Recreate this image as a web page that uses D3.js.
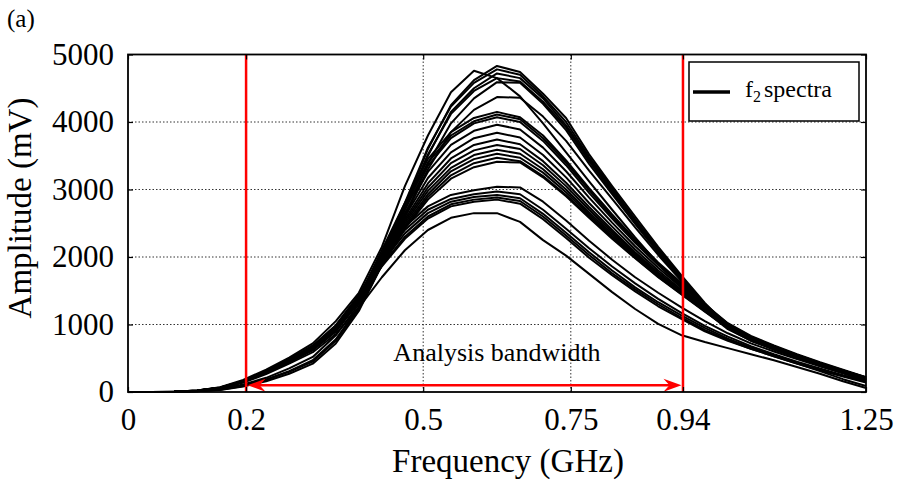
<!DOCTYPE html>
<html>
<head>
<meta charset="utf-8">
<script src="https://cdn.jsdelivr.net/npm/d3@7"></script>
<style>
  body { margin: 0; background: #fff; }
  svg { display: block; }
  text { font-family: "Liberation Serif", "Times New Roman", serif; fill: #000; }
</style>
</head>
<body>
<svg id="chart"></svg>
<script>
// sample frequencies of every spectrum (GHz)
var freqs = [0, 0.039, 0.078, 0.117, 0.156, 0.195, 0.234, 0.273, 0.313, 0.352, 0.391, 0.43, 0.469, 0.508, 0.547, 0.586, 0.625, 0.664, 0.703, 0.742, 0.781, 0.82, 0.859, 0.898, 0.938, 0.977, 1.016, 1.055, 1.094, 1.133, 1.172, 1.211, 1.25];

// high amplitude spectra (mV)
var spec01 = [0,0,5,22,70,180,330,510,720,1050,1470,2150,3050,3800,4440,4760,4650,4380,3980,3550,3120,2700,2290,1900,1540,1200,930,760,640,530,420,320,220];
var spec02 = [0,0,4,18,60,160,300,470,660,960,1400,2000,2750,3600,4250,4620,4830,4740,4420,4060,3520,3050,2600,2150,1720,1320,980,800,670,550,430,320,210];
var spec03 = [0,0,5,20,62,165,305,480,670,980,1420,2050,2800,3620,4230,4580,4780,4700,4380,4000,3480,3020,2560,2120,1700,1300,970,790,660,540,420,310,200];
var spec04 = [0,0,4,18,58,150,290,460,640,940,1380,1950,2700,3500,4150,4500,4720,4650,4350,3950,3450,2990,2540,2100,1680,1290,960,780,650,530,410,300,190];
var spec05 = [0,0,5,19,60,155,295,465,650,950,1390,1980,2720,3520,4120,4460,4650,4600,4300,3920,3420,2960,2510,2080,1660,1270,950,770,640,520,400,290,180];
var spec06 = [0,0,3,14,42,110,210,350,520,840,1300,1900,2600,3380,3980,4350,4590,4580,4270,3880,3380,2930,2490,2060,1650,1260,940,760,630,510,390,280,170];
var spec07 = [0,0,4,18,56,148,285,455,635,930,1360,1920,2600,3300,3850,4180,4370,4360,4080,3720,3280,2860,2440,2030,1640,1260,950,770,640,520,400,290,180];

// middle amplitude spectra (mV)
var spec08 = [0,0,5,21,64,160,300,470,650,940,1400,2100,2800,3450,3850,4060,4150,4070,3800,3430,3020,2630,2260,1920,1610,1300,1020,830,690,560,440,330,220];
var spec09 = [0,0,4,19,60,150,285,455,635,920,1370,2050,2750,3400,3800,4010,4110,4040,3760,3400,2990,2600,2240,1900,1590,1290,1010,820,680,550,430,320,210];
var spec10 = [0,0,5,20,62,155,290,460,640,925,1380,2020,2700,3350,3760,3980,4070,4000,3720,3360,2950,2570,2210,1880,1570,1270,1000,820,680,550,430,320,210];
var spec11 = [0,0,4,18,58,148,282,450,630,910,1360,1980,2650,3260,3660,3870,3960,3890,3620,3270,2880,2510,2160,1840,1540,1250,990,810,670,550,430,320,210];
var spec12 = [0,0,5,20,60,152,285,452,632,912,1355,1960,2600,3170,3550,3760,3840,3770,3510,3180,2800,2450,2110,1800,1510,1230,980,800,660,540,420,310,200];
var spec13 = [0,0,4,19,58,148,280,445,625,900,1340,1940,2560,3090,3460,3660,3740,3670,3420,3100,2740,2400,2070,1770,1490,1220,970,790,650,530,410,300,190];
var spec14 = [0,0,5,20,60,150,282,448,628,905,1345,1930,2530,3030,3390,3580,3660,3600,3360,3050,2700,2370,2050,1750,1480,1210,970,790,650,530,410,300,190];
var spec15 = [0,0,3,12,38,95,185,310,470,780,1260,1910,2500,2980,3320,3510,3590,3530,3300,3000,2660,2340,2030,1740,1470,1210,970,790,650,530,410,300,190];
var spec16 = [0,0,5,19,59,150,280,446,624,900,1335,1900,2470,2930,3270,3450,3530,3470,3250,2960,2630,2310,2010,1720,1460,1200,960,780,640,520,400,290,180];
var spec17 = [0,0,2,10,30,80,160,270,420,720,1200,1880,2440,2890,3210,3390,3470,3420,3200,2920,2600,2290,1990,1710,1450,1200,960,780,640,520,400,290,180];
var spec18 = [0,0,5,20,60,150,282,448,626,902,1335,1870,2420,2850,3160,3330,3410,3400,3180,2900,2580,2270,1980,1700,1440,1190,950,770,630,510,390,280,170];

// low amplitude spectra (mV)
var spec19 = [0,0,5,22,66,165,310,490,690,990,1440,2000,2450,2750,2920,2990,3040,3030,2820,2540,2240,1960,1700,1470,1250,1050,870,720,600,490,380,280,180];
var spec20 = [0,0,4,20,62,158,298,475,670,960,1400,1950,2400,2700,2860,2930,2970,2930,2700,2420,2130,1860,1610,1380,1170,980,820,680,560,450,350,250,160];
var spec21 = [0,0,5,21,64,160,302,480,675,970,1410,1920,2350,2650,2820,2890,2920,2870,2640,2360,2070,1800,1550,1330,1130,950,790,660,540,430,330,240,150];
var spec22 = [0,0,2,12,35,90,180,300,450,760,1230,1880,2300,2600,2780,2850,2880,2830,2600,2320,2030,1760,1520,1300,1100,920,770,640,530,420,320,230,140];
var spec23 = [0,0,5,20,62,158,300,475,665,955,1390,1860,2270,2570,2750,2820,2850,2790,2560,2280,1990,1730,1490,1270,1080,900,760,640,530,420,310,190,90];
var spec24 = [0,0,4,18,55,140,265,420,590,860,1250,1700,2100,2400,2580,2650,2650,2520,2250,2020,1750,1480,1230,1010,840,740,650,560,470,370,270,160,60];

var spectra = [spec01, spec02, spec03, spec04, spec05, spec06, spec07, spec08, spec09, spec10, spec11, spec12,
  spec13, spec14, spec15, spec16, spec17, spec18, spec19, spec20, spec21, spec22, spec23, spec24];

// axis ticks
var xTicks = [0, 0.2, 0.5, 0.75, 0.94, 1.25];
var xTickLabels = ["0", "0.2", "0.5", "0.75", "0.94", "1.25"];
var yTicks = [0, 1000, 2000, 3000, 4000, 5000];

// analysis band limits (GHz)
var bandLimits = [0.2, 0.94];

//dimensions constant
const dimensions = {
  width: 738,
  height: 337.5,
  margin: {
    top: 54.5,
    bottom: 91,
    right: 32,
    left: 128,
  },
};
var serif = "Liberation Serif, Times New Roman, serif";

var svg = d3
  .select("#chart")
  .attr("width", 898)
  .attr("height", 483);

svg.append("rect").attr("width", 898).attr("height", 483).attr("fill", "#fff");

var plot = svg
  .append("g")
  .attr("transform", "translate(" + dimensions.margin.left + "," + dimensions.margin.top + ")");

var xScale = d3.scaleLinear().domain([0, 1.25]).range([0, dimensions.width]);
var yScale = d3.scaleLinear().domain([0, 5000]).range([dimensions.height, 0]);

//dotted grid
plot
  .selectAll(".hgrid")
  .data(yTicks.slice(1, -1))
  .enter()
  .append("line")
  .attr("x1", 0)
  .attr("x2", dimensions.width)
  .attr("y1", (d) => yScale(d))
  .attr("y2", (d) => yScale(d))
  .attr("stroke", "#333")
  .attr("stroke-width", 1)
  .attr("stroke-dasharray", "1.5,2");

plot
  .selectAll(".vgrid")
  .data(xTicks.slice(1, -1))
  .enter()
  .append("line")
  .attr("x1", (d) => xScale(d))
  .attr("x2", (d) => xScale(d))
  .attr("y1", 0)
  .attr("y2", dimensions.height)
  .attr("stroke", "#333")
  .attr("stroke-width", 1)
  .attr("stroke-dasharray", "1.5,2");

//spectra lines
var line = d3
  .line()
  .x((d, i) => xScale(freqs[i]))
  .y((d) => yScale(d));

plot
  .selectAll(".spec")
  .data(spectra)
  .enter()
  .append("path")
  .attr("d", line)
  .attr("fill", "none")
  .attr("stroke", "#000")
  .attr("stroke-width", 2)
  .attr("stroke-linejoin", "round");

//red band limits
plot
  .selectAll(".band")
  .data(bandLimits)
  .enter()
  .append("line")
  .attr("x1", (d) => xScale(d))
  .attr("x2", (d) => xScale(d))
  .attr("y1", 0)
  .attr("y2", dimensions.height)
  .attr("stroke", "#ff0000")
  .attr("stroke-width", 2.5);

//double arrow between the limits
var arrowY = yScale(100);
var xa = xScale(bandLimits[0]) + 1.5;
var xb = xScale(bandLimits[1]) - 1.5;
plot
  .append("line")
  .attr("x1", xa + 8)
  .attr("x2", xb - 8)
  .attr("y1", arrowY)
  .attr("y2", arrowY)
  .attr("stroke", "#ff0000")
  .attr("stroke-width", 2.5);

plot
  .append("path")
  .attr("d", "M" + xa + "," + arrowY + "L" + (xa + 18) + "," + (arrowY - 6.5) + "L" + (xa + 12) + "," + arrowY + "L" + (xa + 18) + "," + (arrowY + 6.5) + "Z")
  .attr("fill", "#ff0000");

plot
  .append("path")
  .attr("d", "M" + xb + "," + arrowY + "L" + (xb - 18) + "," + (arrowY - 6.5) + "L" + (xb - 12) + "," + arrowY + "L" + (xb - 18) + "," + (arrowY + 6.5) + "Z")
  .attr("fill", "#ff0000");

plot
  .append("text")
  .attr("x", xScale(0.625))
  .attr("y", yScale(460))
  .attr("font-size", 26)
  .attr("font-family", serif)
  .attr("text-anchor", "middle")
  .text("Analysis bandwidth");

//axes, matlab style box with inward ticks
plot
  .append("g")
  .attr("transform", "translate(0," + dimensions.height + ")")
  .call(d3.axisBottom(xScale).tickValues(xTicks).tickFormat((d, i) => xTickLabels[i]).tickSizeInner(-5).tickSizeOuter(0).tickPadding(16))
  .call((g) => g.select(".domain").remove())
  .attr("font-family", serif)
  .selectAll("text")
  .attr("font-size", 31)
  .attr("fill", "#000");

plot
  .append("g")
  .call(d3.axisTop(xScale).tickValues(xTicks).tickFormat("").tickSizeInner(-5).tickSizeOuter(0))
  .call((g) => g.select(".domain").remove());

plot
  .append("g")
  .call(d3.axisLeft(yScale).tickValues(yTicks).tickFormat(d3.format("d")).tickSizeInner(-5).tickSizeOuter(0).tickPadding(14))
  .call((g) => g.select(".domain").remove())
  .attr("font-family", serif)
  .selectAll("text")
  .attr("font-size", 31)
  .attr("fill", "#000");

plot
  .append("g")
  .attr("transform", "translate(" + dimensions.width + ",0)")
  .call(d3.axisRight(yScale).tickValues(yTicks).tickFormat("").tickSizeInner(-5).tickSizeOuter(0))
  .call((g) => g.select(".domain").remove());

plot.selectAll(".tick line").attr("stroke", "#000").attr("stroke-width", 1.2);

plot
  .append("rect")
  .attr("width", dimensions.width)
  .attr("height", dimensions.height)
  .attr("fill", "none")
  .attr("stroke", "#000")
  .attr("stroke-width", 1.8);

//legend
var legend = svg.append("g");
legend
  .append("rect")
  .attr("x", 689)
  .attr("y", 62)
  .attr("width", 170)
  .attr("height", 59)
  .attr("fill", "#fff")
  .attr("stroke", "#000")
  .attr("stroke-width", 1.5);
legend
  .append("line")
  .attr("x1", 693)
  .attr("x2", 730)
  .attr("y1", 92)
  .attr("y2", 92)
  .attr("stroke", "#000")
  .attr("stroke-width", 3.5);
var legendText = legend.append("text").attr("x", 745).attr("y", 97).attr("font-size", 24).attr("font-family", serif);
legendText.append("tspan").text("f");
legendText.append("tspan").attr("font-size", 16).attr("dy", 5).text("2");
legendText.append("tspan").attr("dy", -5).attr("dx", 3).text("spectra");

//axis titles
svg
  .append("text")
  .attr("x", 508)
  .attr("y", 472)
  .attr("font-size", 33)
  .attr("font-family", serif)
  .attr("text-anchor", "middle")
  .text("Frequency (GHz)");

svg
  .append("text")
  .attr("transform", "translate(31,208)rotate(-90)")
  .attr("font-size", 33)
  .attr("font-family", serif)
  .attr("text-anchor", "middle")
  .text("Amplitude (mV)");

svg
  .append("text")
  .attr("x", 7)
  .attr("y", 27)
  .attr("font-size", 25)
  .attr("font-family", serif)
  .text("(a)");
</script>
</body>
</html>
